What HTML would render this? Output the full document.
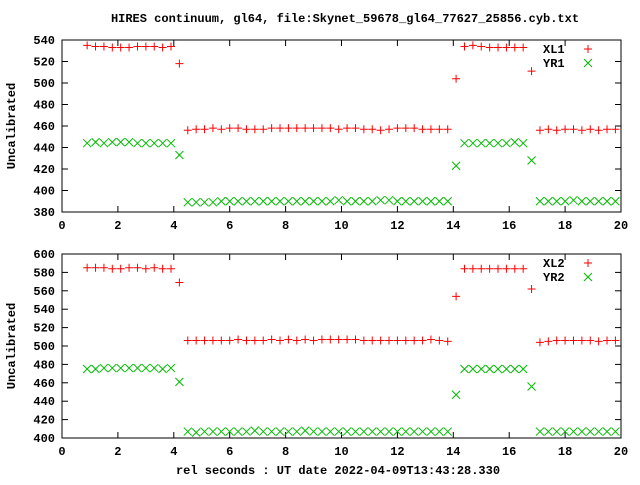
<!DOCTYPE html>
<html><head><meta charset="utf-8"><style>
body{margin:0;background:#fff}
svg text{font-family:"Liberation Mono",monospace;font-weight:bold;font-size:12px;fill:#000}
</style></head><body>
<svg id="c" width="640" height="480" xmlns="http://www.w3.org/2000/svg">
<rect width="640" height="480" fill="#fff"/>
<text x="345" y="22" text-anchor="middle">HIRES continuum, gl64, file:Skynet_59678_gl64_77627_25856.cyb.txt</text>
<text x="338" y="474" text-anchor="middle">rel seconds : UT date 2022-04-09T13:43:28.330</text>
</svg>
<script>
const xTicks=[0,2,4,6,8,10,12,14,16,18,20];
const yTicks1=[380,400,420,440,460,480,500,520,540];
const yTicks2=[400,420,440,460,480,500,520,540,560,580,600];
const times=[0.9,1.2,1.5,1.8,2.1,2.4,2.7,3.0,3.3,3.6,3.9,4.2,4.5,4.8,5.1,5.4,5.7,6.0,6.3,6.6,6.9,7.2,7.5,7.8,8.1,8.4,8.7,9.0,9.3,9.6,9.9,10.2,10.5,10.8,11.1,11.4,11.7,12.0,12.3,12.6,12.9,13.2,13.5,13.8,14.1,14.4,14.7,15.0,15.3,15.6,15.9,16.2,16.5,16.8,17.1,17.4,17.7,18.0,18.3,18.6,18.9,19.2,19.5,19.8];
const xl1=[535,534,534,533,533,533,534,534,534,533,534,518,456,457,457,458,457,458,458,457,457,457,458,458,458,458,458,458,458,458,457,458,458,457,457,456,457,458,458,458,457,457,457,457,504,534,535,534,533,533,533,533,533,511,456,457,456,457,457,456,457,456,457,457];
const yr1=[444,445,444,445,445,445,444,444,444,444,444,433,389,389,389,389,390,390,390,390,390,390,390,390,390,390,390,390,390,390,391,390,390,390,390,391,391,390,390,390,390,390,390,390,423,444,444,444,444,444,444,445,444,428,390,390,390,390,391,390,390,390,390,390];
const xl2=[585,585,585,584,584,585,585,584,585,584,584,569,506,506,506,506,506,506,507,506,506,506,507,506,507,506,507,506,507,507,507,507,507,506,506,506,506,506,506,506,506,507,506,505,554,584,584,584,584,584,584,584,584,562,504,505,506,506,506,506,506,505,506,506];
const yr2=[475,475,476,476,476,476,476,476,476,475,476,461,407,406,407,407,407,407,407,407,408,407,407,407,407,407,408,407,407,407,407,407,407,407,407,407,407,407,407,407,407,407,407,407,447,475,475,475,475,475,475,475,475,456,407,407,407,407,407,407,407,407,407,407];
const NS='http://www.w3.org/2000/svg';
const svg=document.getElementById('c');
function mk(t,a){const e=document.createElementNS(NS,t);for(const k in a)e.setAttribute(k,a[k]);svg.appendChild(e);return e;}
const X0=62,X1=621;
function xs(v){return X0+(v-0)/(20-0)*(X1-X0);}
function plot(top,bot,ymin,ymax,yt,s1,s2,n1,n2,idx){
  const ys=v=>bot-(v-ymin)/(ymax-ymin)*(bot-top);
  const fr=mk('rect',{x:X0,y:top,width:X1-X0,height:bot-top,fill:'none',stroke:'#000','stroke-width':1});
  
  
  yt.forEach(v=>{const y=ys(v);
    mk('line',{x1:X0,x2:X0+6,y1:y,y2:y,stroke:'#000'});mk('line',{x1:X1-6,x2:X1,y1:y,y2:y,stroke:'#000'});
    const t=mk('text',{x:X0-7,y:y+4,'text-anchor':'end'});t.textContent=v;
    
    });
  xTicks.forEach(v=>{const x=xs(v);
    mk('line',{x1:x,x2:x,y1:bot,y2:bot-6,stroke:'#000'});mk('line',{x1:x,x2:x,y1:top,y2:top+6,stroke:'#000'});
    const t=mk('text',{x:x,y:bot+17,'text-anchor':'middle'});t.textContent=v;
    
    });
  const yl=mk('text',{x:0,y:0,'text-anchor':'middle',transform:`translate(15,${(top+bot)/2}) rotate(-90)`});yl.textContent='Uncalibrated';
  
  
  function plus(x,y,n){const p=mk('path',{d:`M${x-4},${y}h8M${x},${y-4}v8`,stroke:'#f00','stroke-width':1,fill:'none'});
    
    }
  function cross(x,y,n){const p=mk('path',{d:`M${x-4},${y-4}l8,8M${x-4},${y+4}l8,-8`,stroke:'#0b0','stroke-width':1,fill:'none'});
    
    }
  times.forEach((t,i)=>{plus(xs(t),ys(s1[i]),n1.toLowerCase()+'-point');cross(xs(t),ys(s2[i]),n2.toLowerCase()+'-point');});
  const l1=mk('text',{x:543,y:top+13});l1.textContent=n1;
  
  
  plus(588,top+9,'legend-marker-'+n1.toLowerCase());
  const l2=mk('text',{x:543,y:top+27});l2.textContent=n2;
  
  
  cross(588,top+23,'legend-marker-'+n2.toLowerCase());
}
plot(40,212,380,540,yTicks1,xl1,yr1,'XL1','YR1',1);
plot(254,438,400,600,yTicks2,xl2,yr2,'XL2','YR2',2);
</script>
</body></html>
